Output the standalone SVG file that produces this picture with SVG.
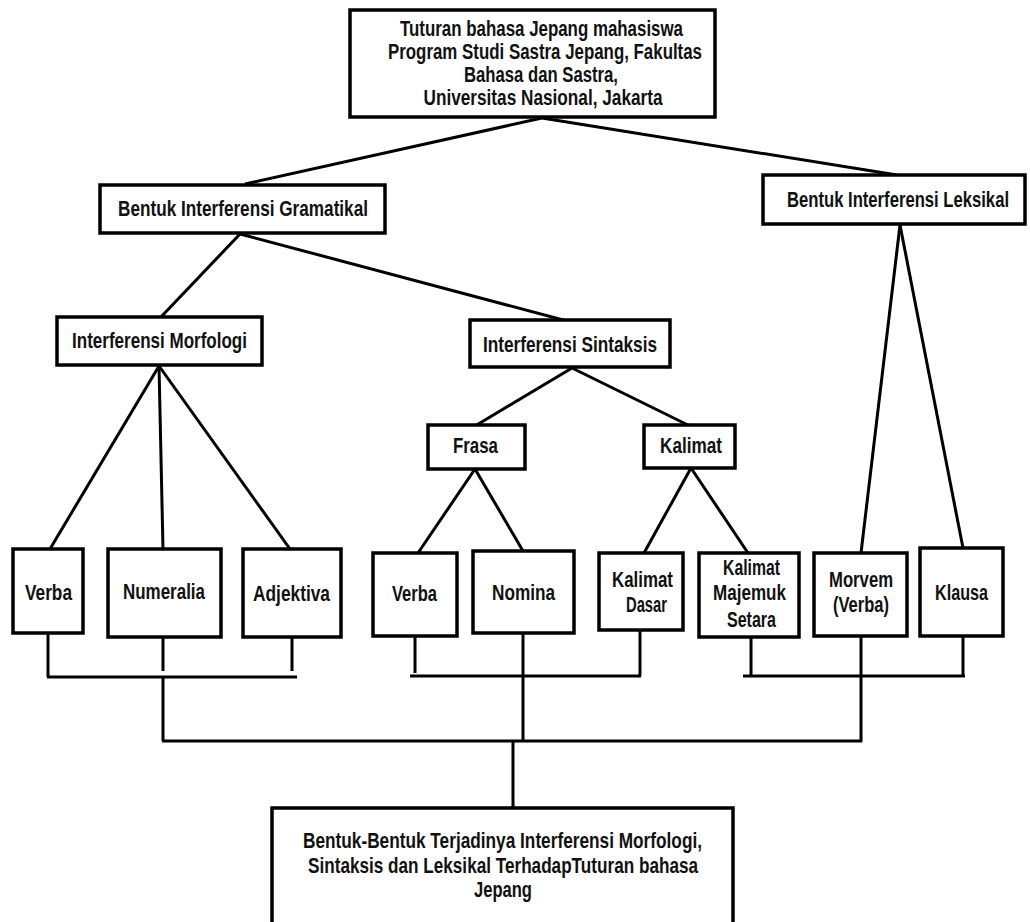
<svg xmlns="http://www.w3.org/2000/svg" width="1030" height="922" viewBox="0 0 1030 922">
<style>
.b{fill:#fff;stroke:#000;stroke-width:3.5}
.t{font-family:"Liberation Sans",Arial,sans-serif;font-weight:bold;font-size:22px;fill:#111;text-anchor:middle}
#connectors line{stroke:#000;stroke-width:3;fill:none}
</style>
<rect width="1030" height="922" fill="#fff"/>
<g id="connectors">
<line x1="542" y1="118" x2="245" y2="184"/>
<line x1="542" y1="118" x2="897" y2="175"/>
<line x1="240" y1="234" x2="160" y2="318"/>
<line x1="240" y1="234" x2="567" y2="321"/>
<line x1="159" y1="366" x2="50" y2="549"/>
<line x1="159" y1="366" x2="163" y2="549"/>
<line x1="159" y1="366" x2="290" y2="549"/>
<line x1="572" y1="368" x2="475" y2="426"/>
<line x1="572" y1="368" x2="690" y2="426"/>
<line x1="475" y1="469" x2="418" y2="553"/>
<line x1="475" y1="469" x2="523" y2="551"/>
<line x1="691" y1="468" x2="644" y2="553"/>
<line x1="691" y1="468" x2="748" y2="553"/>
<line x1="900" y1="225" x2="861" y2="553"/>
<line x1="900" y1="225" x2="963" y2="548"/>
<line x1="48" y1="633" x2="48" y2="677"/>
<line x1="163" y1="637" x2="163" y2="671"/>
<line x1="292" y1="637" x2="292" y2="671"/>
<line x1="47" y1="677" x2="297" y2="677"/>
<line x1="163" y1="677" x2="163" y2="741"/>
<line x1="415" y1="632" x2="415" y2="673"/>
<line x1="410" y1="676" x2="641" y2="676"/>
<line x1="640" y1="630" x2="640" y2="676"/>
<line x1="523" y1="633" x2="523" y2="741"/>
<line x1="751" y1="637" x2="751" y2="676"/>
<line x1="743" y1="676" x2="965" y2="676"/>
<line x1="963" y1="636" x2="963" y2="676"/>
<line x1="861" y1="632" x2="861" y2="742"/>
<line x1="162" y1="741" x2="862" y2="741"/>
<line x1="513" y1="741" x2="513" y2="808"/>
</g>
<g id="n-top"><rect class="b" x="350" y="10" width="365" height="107"/>
<text class="t" x="541.5" y="36" textLength="283" lengthAdjust="spacingAndGlyphs">Tuturan bahasa Jepang mahasiswa</text>
<text class="t" x="545" y="59" textLength="314" lengthAdjust="spacingAndGlyphs">Program Studi Sastra Jepang, Fakultas</text>
<text class="t" x="541" y="82" textLength="154" lengthAdjust="spacingAndGlyphs">Bahasa dan Sastra,</text>
<text class="t" x="543" y="105" textLength="239" lengthAdjust="spacingAndGlyphs">Universitas Nasional, Jakarta</text></g>
<g id="n-gramatikal"><rect class="b" x="100" y="185" width="285" height="48"/>
<text class="t" x="243" y="216" textLength="250" lengthAdjust="spacingAndGlyphs">Bentuk Interferensi Gramatikal</text></g>
<g id="n-leksikal"><rect class="b" x="763" y="175" width="262" height="49"/>
<text class="t" x="0" y="0" transform="translate(898,207) scale(0.757,1)">Bentuk Interferensi Leksikal</text></g>
<g id="n-morfologi"><rect class="b" x="57" y="317" width="205" height="48"/>
<text class="t" x="159.5" y="348" textLength="175" lengthAdjust="spacingAndGlyphs">Interferensi Morfologi</text></g>
<g id="n-sintaksis"><rect class="b" x="470" y="320" width="200" height="47"/>
<text class="t" x="570" y="352" textLength="174" lengthAdjust="spacingAndGlyphs">Interferensi Sintaksis</text></g>
<g id="n-frasa"><rect class="b" x="428" y="425" width="97" height="44"/>
<text class="t" x="475.5" y="453" textLength="45" lengthAdjust="spacingAndGlyphs">Frasa</text></g>
<g id="n-kalimat"><rect class="b" x="644" y="425" width="91" height="43"/>
<text class="t" x="691" y="453" textLength="62" lengthAdjust="spacingAndGlyphs">Kalimat</text></g>
<g id="n-verba1"><rect class="b" x="13" y="549" width="70" height="84"/>
<text class="t" x="48.5" y="600" textLength="47" lengthAdjust="spacingAndGlyphs">Verba</text></g>
<g id="n-numeralia"><rect class="b" x="108" y="549" width="113" height="88"/>
<text class="t" x="164" y="599" textLength="82" lengthAdjust="spacingAndGlyphs">Numeralia</text></g>
<g id="n-adjektiva"><rect class="b" x="243" y="549" width="98" height="88"/>
<text class="t" x="291.5" y="601" textLength="77" lengthAdjust="spacingAndGlyphs">Adjektiva</text></g>
<g id="n-verba2"><rect class="b" x="373" y="553" width="84" height="83"/>
<text class="t" x="414.5" y="601" textLength="45" lengthAdjust="spacingAndGlyphs">Verba</text></g>
<g id="n-nomina"><rect class="b" x="473" y="551" width="101" height="82"/>
<text class="t" x="523.5" y="600" textLength="63" lengthAdjust="spacingAndGlyphs">Nomina</text></g>
<g id="n-kalimat-dasar"><rect class="b" x="599" y="553" width="84" height="77"/>
<text class="t" x="642.5" y="587" textLength="61" lengthAdjust="spacingAndGlyphs">Kalimat</text>
<text class="t" x="646.5" y="612" textLength="41" lengthAdjust="spacingAndGlyphs">Dasar</text></g>
<g id="n-kalimat-majemuk"><rect class="b" x="699" y="553" width="100" height="84"/>
<text class="t" x="751.5" y="575" textLength="57" lengthAdjust="spacingAndGlyphs">Kalimat</text>
<text class="t" x="749.5" y="600" textLength="73" lengthAdjust="spacingAndGlyphs">Majemuk</text>
<text class="t" x="751.5" y="627" textLength="49" lengthAdjust="spacingAndGlyphs">Setara</text></g>
<g id="n-morvem"><rect class="b" x="814" y="553" width="93" height="83"/>
<text class="t" x="861" y="587" textLength="64" lengthAdjust="spacingAndGlyphs">Morvem</text>
<text class="t" x="861" y="612" textLength="56" lengthAdjust="spacingAndGlyphs">(Verba)</text></g>
<g id="n-klausa"><rect class="b" x="920" y="548" width="83" height="88"/>
<text class="t" x="961.5" y="600" textLength="53" lengthAdjust="spacingAndGlyphs">Klausa</text></g>
<g id="n-bottom"><rect class="b" x="272" y="808" width="461" height="140"/>
<text class="t" x="502.5" y="848" textLength="399" lengthAdjust="spacingAndGlyphs">Bentuk-Bentuk Terjadinya Interferensi Morfologi,</text>
<text class="t" x="503" y="873" textLength="390" lengthAdjust="spacingAndGlyphs">Sintaksis dan Leksikal TerhadapTuturan bahasa</text>
<text class="t" x="503" y="897" textLength="58" lengthAdjust="spacingAndGlyphs">Jepang</text></g>
</svg>
